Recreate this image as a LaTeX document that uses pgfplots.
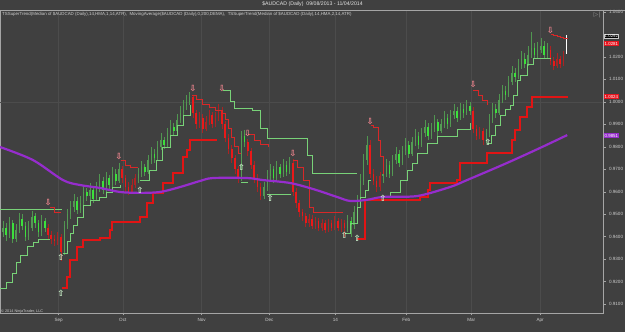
\documentclass[border=0pt]{standalone}
\usepackage{pgfplots}
\pgfplotsset{compat=1.18}
\usepackage{pgfplotstable}
\usepackage{fontspec}
\setmainfont{Liberation Sans}
\newfontfamily\dejavu{DejaVu Sans}
\definecolor{bg}{RGB}{64,64,64}
\definecolor{framec}{RGB}{165,165,165}
\definecolor{lbl}{RGB}{205,205,205}
\definecolor{gwick}{RGB}{80,150,80}
\definecolor{gbody}{RGB}{60,225,60}
\definecolor{gdim}{RGB}{85,155,85}
\definecolor{rwick}{RGB}{170,35,35}
\definecolor{rbody}{RGB}{235,25,25}
\definecolor{rdim}{RGB}{175,35,35}
\definecolor{stg}{RGB}{120,210,120}
\definecolor{str}{RGB}{215,40,40}
\definecolor{stthick}{RGB}{225,20,20}
\definecolor{dema}{RGB}{150,45,205}
\definecolor{dnarrow}{RGB}{245,135,145}
\definecolor{uparrow}{RGB}{205,245,205}
\definecolor{gridc}{RGB}{76,76,76}

\pgfplotstableread{
x o h l c t
0 0.9420 0.9470 0.9400 0.9440 1
1 0.9440 0.9460 0.9380 0.9410 1
2 0.9410 0.9490 0.9395 0.9460 1
3 0.9460 0.9475 0.9370 0.9390 1
4 0.9390 0.9455 0.9375 0.9430 1
5 0.9430 0.9505 0.9415 0.9480 1
6 0.9480 0.9500 0.9430 0.9450 1
7 0.9450 0.9465 0.9380 0.9400 1
8 0.9400 0.9470 0.9385 0.9440 1
9 0.9440 0.9515 0.9425 0.9490 1
10 0.9490 0.9505 0.9440 0.9460 1
11 0.9460 0.9475 0.9400 0.9420 1
12 0.9420 0.9495 0.9405 0.9470 1
13 0.9470 0.9485 0.9420 0.9440 1
14 0.9440 0.9455 0.9390 0.9410 0
15 0.9410 0.9425 0.9370 0.9390 0
16 0.9390 0.9410 0.9360 0.9380 0
17 0.9380 0.9420 0.9365 0.9400 0
18 0.9400 0.9410 0.9290 0.9330 0
19 0.9330 0.9470 0.9320 0.9450 1
20 0.9450 0.9525 0.9435 0.9500 1
21 0.9500 0.9560 0.9480 0.9530 1
22 0.9530 0.9590 0.9510 0.9560 1
23 0.9560 0.9575 0.9500 0.9520 1
24 0.9520 0.9580 0.9505 0.9550 1
25 0.9550 0.9625 0.9535 0.9600 1
26 0.9600 0.9615 0.9560 0.9580 1
27 0.9580 0.9640 0.9565 0.9610 1
28 0.9610 0.9625 0.9550 0.9570 1
29 0.9570 0.9645 0.9560 0.9620 1
30 0.9620 0.9680 0.9600 0.9650 1
31 0.9650 0.9665 0.9590 0.9610 1
32 0.9610 0.9690 0.9600 0.9660 1
33 0.9660 0.9675 0.9610 0.9630 1
34 0.9630 0.9710 0.9615 0.9680 1
35 0.9680 0.9700 0.9630 0.9650 1
36 0.9650 0.9730 0.9640 0.9700 1
37 0.9700 0.9715 0.9640 0.9660 0
38 0.9660 0.9675 0.9600 0.9620 0
39 0.9620 0.9645 0.9585 0.9600 0
40 0.9600 0.9655 0.9590 0.9630 0
41 0.9630 0.9680 0.9615 0.9660 0
42 0.9660 0.9705 0.9640 0.9680 1
43 0.9680 0.9735 0.9665 0.9710 1
44 0.9710 0.9725 0.9670 0.9690 1
45 0.9690 0.9765 0.9680 0.9740 1
46 0.9740 0.9800 0.9725 0.9770 1
47 0.9770 0.9790 0.9730 0.9750 1
48 0.9750 0.9825 0.9740 0.9800 1
49 0.9800 0.9860 0.9785 0.9830 1
50 0.9830 0.9845 0.9790 0.9810 1
51 0.9810 0.9885 0.9800 0.9860 1
52 0.9860 0.9920 0.9845 0.9890 1
53 0.9890 0.9905 0.9850 0.9870 1
54 0.9870 0.9945 0.9860 0.9920 1
55 0.9920 0.9980 0.9905 0.9950 1
56 0.9950 1.0010 0.9935 0.9980 1
57 0.9980 1.0030 0.9965 1.0000 1
58 1.0000 1.0045 0.9985 1.0020 1
59 1.0020 1.0030 0.9930 0.9950 0
60 0.9950 0.9965 0.9880 0.9900 0
61 0.9900 0.9955 0.9885 0.9930 0
62 0.9930 0.9945 0.9860 0.9880 0
63 0.9880 0.9935 0.9870 0.9910 0
64 0.9910 0.9965 0.9895 0.9940 0
65 0.9940 0.9955 0.9885 0.9900 0
66 0.9900 0.9955 0.9890 0.9930 0
67 0.9930 0.9990 0.9915 0.9960 0
68 0.9960 0.9975 0.9880 0.9900 0
69 0.9900 0.9915 0.9820 0.9840 0
70 0.9840 0.9855 0.9770 0.9790 0
71 0.9790 0.9810 0.9730 0.9750 0
72 0.9750 0.9765 0.9680 0.9700 0
73 0.9700 0.9715 0.9640 0.9660 0
74 0.9660 0.9870 0.9650 0.9850 1
75 0.9850 0.9875 0.9800 0.9820 1
76 0.9820 0.9835 0.9760 0.9780 0
77 0.9780 0.9795 0.9700 0.9720 0
78 0.9720 0.9735 0.9640 0.9660 0
79 0.9660 0.9680 0.9600 0.9620 0
80 0.9620 0.9640 0.9565 0.9580 0
81 0.9580 0.9645 0.9570 0.9620 1
82 0.9620 0.9695 0.9605 0.9670 1
83 0.9670 0.9725 0.9650 0.9700 1
84 0.9700 0.9715 0.9640 0.9660 1
85 0.9660 0.9735 0.9650 0.9710 1
86 0.9710 0.9725 0.9660 0.9680 1
87 0.9680 0.9745 0.9665 0.9720 1
88 0.9720 0.9735 0.9670 0.9690 1
89 0.9690 0.9755 0.9680 0.9730 1
90 0.9730 0.9745 0.9580 0.9600 0
91 0.9600 0.9615 0.9530 0.9550 0
92 0.9550 0.9565 0.9490 0.9510 0
93 0.9510 0.9525 0.9470 0.9490 0
94 0.9490 0.9505 0.9445 0.9460 0
95 0.9460 0.9500 0.9445 0.9480 0
96 0.9480 0.9495 0.9435 0.9450 0
97 0.9450 0.9490 0.9435 0.9470 0
98 0.9470 0.9485 0.9425 0.9440 0
99 0.9440 0.9480 0.9425 0.9460 0
100 0.9460 0.9475 0.9415 0.9430 0
101 0.9430 0.9480 0.9420 0.9460 0
102 0.9460 0.9475 0.9425 0.9440 0
103 0.9440 0.9490 0.9430 0.9470 0
104 0.9470 0.9485 0.9425 0.9440 0
105 0.9440 0.9480 0.9420 0.9460 0
106 0.9460 0.9475 0.9400 0.9440 0
107 0.9440 0.9495 0.9420 0.9470 1
108 0.9470 0.9490 0.9400 0.9450 1
109 0.9450 0.9535 0.9435 0.9510 1
110 0.9510 0.9585 0.9490 0.9560 1
111 0.9560 0.9680 0.9545 0.9650 1
112 0.9650 0.9770 0.9630 0.9740 1
113 0.9740 0.9850 0.9720 0.9810 1
114 0.9810 0.9830 0.9660 0.9680 0
115 0.9680 0.9700 0.9630 0.9650 0
116 0.9650 0.9670 0.9600 0.9620 0
117 0.9620 0.9690 0.9605 0.9670 0
118 0.9670 0.9705 0.9640 0.9680 1
119 0.9680 0.9745 0.9665 0.9720 1
120 0.9720 0.9735 0.9660 0.9680 1
121 0.9680 0.9765 0.9670 0.9740 1
122 0.9740 0.9800 0.9725 0.9770 1
123 0.9770 0.9785 0.9710 0.9730 1
124 0.9730 0.9805 0.9720 0.9780 1
125 0.9780 0.9840 0.9765 0.9810 1
126 0.9810 0.9825 0.9750 0.9770 1
127 0.9770 0.9845 0.9760 0.9820 1
128 0.9820 0.9880 0.9805 0.9850 1
129 0.9850 0.9865 0.9790 0.9810 1
130 0.9810 0.9885 0.9800 0.9860 1
131 0.9860 0.9920 0.9845 0.9890 1
132 0.9890 0.9905 0.9830 0.9850 1
133 0.9850 0.9905 0.9835 0.9880 1
134 0.9880 0.9940 0.9865 0.9910 1
135 0.9910 0.9925 0.9850 0.9870 1
136 0.9870 0.9925 0.9860 0.9900 1
137 0.9900 0.9960 0.9885 0.9930 1
138 0.9930 0.9945 0.9880 0.9900 1
139 0.9900 0.9965 0.9890 0.9940 1
140 0.9940 0.9990 0.9925 0.9960 1
141 0.9960 0.9975 0.9910 0.9930 1
142 0.9930 0.9995 0.9920 0.9970 1
143 0.9970 0.9990 0.9930 0.9950 1
144 0.9950 1.0010 0.9940 0.9980 1
145 0.9980 1.0000 0.9940 0.9960 1
146 0.9960 0.9975 0.9860 0.9880 0
147 0.9880 0.9895 0.9830 0.9850 0
148 0.9850 0.9890 0.9835 0.9870 0
149 0.9870 0.9885 0.9810 0.9830 0
150 0.9830 0.9880 0.9815 0.9860 1
151 0.9860 0.9945 0.9845 0.9920 1
152 0.9920 0.9995 0.9905 0.9970 1
153 0.9970 0.9990 0.9930 0.9950 1
154 0.9950 1.0035 0.9940 1.0010 1
155 1.0010 1.0075 0.9995 1.0050 1
156 1.0050 1.0070 1.0010 1.0030 1
157 1.0030 1.0115 1.0020 1.0090 1
158 1.0090 1.0160 1.0075 1.0130 1
159 1.0130 1.0150 1.0090 1.0110 1
160 1.0110 1.0190 1.0100 1.0160 1
161 1.0160 1.0225 1.0145 1.0190 1
162 1.0190 1.0215 1.0150 1.0170 1
163 1.0170 1.0250 1.0160 1.0210 1
164 1.0210 1.0310 1.0195 1.0240 1
165 1.0240 1.0260 1.0190 1.0210 1
166 1.0210 1.0265 1.0195 1.0230 1
167 1.0230 1.0285 1.0215 1.0250 1
168 1.0250 1.0270 1.0190 1.0210 1
169 1.0210 1.0260 1.0195 1.0230 1
170 1.0230 1.0250 1.0165 1.0180 0
171 1.0180 1.0200 1.0140 1.0160 0
172 1.0160 1.0215 1.0150 1.0190 0
173 1.0190 1.0205 1.0150 1.0170 0
174 1.0170 1.0225 1.0160 1.0200 0
175 1.0215 1.0295 1.0212 1.0292 2
}\candles

\pgfplotsset{
  candle/.style 2 args={draw=none, mark=none, forget plot,
    error bars/.cd, y dir=both, y explicit, error mark=none,
    error bar style={draw=#1, line width=#2}},
}

\begin{document}
\begin{tikzpicture}[font=\fontsize{4.6}{5.5}\selectfont]
\useasboundingbox (0,0) rectangle (625pt,332pt);
\fill[bg] (0,0) rectangle (625pt,332pt);
\begin{axis}[
  at={(0pt,19pt)}, anchor=south west,
  scale only axis, width=603pt, height=303pt,
  xmin=-0.93, xmax=186.3, ymin=0.9061, ymax=1.0408,
  clip=false,
  axis background/.style={fill=bg},
  axis line style={framec, line width=0.6pt},
  xtick pos=left, ytick pos=right, yticklabel pos=right,
  tick align=outside, major tick length=2.5pt,
  tick style={framec, line width=0.5pt},
  xtick={17.3,37.2,61.7,82.7,103.2,125.2,145.4,166.8},
  xticklabels={Sep,Oct,Nov,Dec,14,Feb,Mar,Apr},
  ytick={0.91,0.92,0.93,0.94,0.95,0.96,0.97,0.98,0.99,1.00,1.01,1.02,1.03,1.04},
  yticklabels={0.9100,0.9200,0.9300,0.9400,0.9500,0.9600,0.9700,0.9800,0.9900,1.0000,1.0100,1.0200,,1.0400},
  ticklabel style={text=lbl, font=\fontsize{4.6}{5}\selectfont},
  xticklabel style={yshift=0.5pt},
  xmajorgrids, major grid style={gridc, line width=0.5pt},
]
\draw[gridc, line width=0.5pt] (axis cs:-0.93,1.0) -- (axis cs:186.3,1.0);

% wicks
\addplot[restrict expr to domain={\thisrow{t}}{0.5:1.5}, candle={gwick}{0.6pt}]
  table[x=x, y expr={(\thisrow{h}+\thisrow{l})/2}, y error expr={(\thisrow{h}-\thisrow{l})/2}] {\candles};
\addplot[restrict expr to domain={\thisrow{t}}{-0.5:0.5}, candle={rwick}{0.6pt}]
  table[x=x, y expr={(\thisrow{h}+\thisrow{l})/2}, y error expr={(\thisrow{h}-\thisrow{l})/2}] {\candles};
\addplot[restrict expr to domain={\thisrow{t}}{1.5:2.5}, candle={white}{0.6pt}]
  table[x=x, y expr={(\thisrow{h}+\thisrow{l})/2}, y error expr={(\thisrow{h}-\thisrow{l})/2}] {\candles};
% bodies
\addplot[restrict expr to domain={\thisrow{t}+10*(\thisrow{c}<\thisrow{o})}{0.5:1.5}, candle={gdim}{1.1pt}]
  table[x=x, y expr={(\thisrow{o}+\thisrow{c})/2}, y error expr={abs(\thisrow{c}-\thisrow{o})/2}] {\candles};
\addplot[restrict expr to domain={\thisrow{t}+10*(\thisrow{c}<\thisrow{o})}{10.5:11.5}, candle={gbody}{1.7pt}]
  table[x=x, y expr={(\thisrow{o}+\thisrow{c})/2}, y error expr={abs(\thisrow{c}-\thisrow{o})/2}] {\candles};
\addplot[restrict expr to domain={\thisrow{t}+10*(\thisrow{c}<\thisrow{o})}{-0.5:0.5}, candle={rdim}{1.1pt}]
  table[x=x, y expr={(\thisrow{o}+\thisrow{c})/2}, y error expr={abs(\thisrow{c}-\thisrow{o})/2}] {\candles};
\addplot[restrict expr to domain={\thisrow{t}+10*(\thisrow{c}<\thisrow{o})}{9.5:10.5}, candle={rbody}{1.7pt}]
  table[x=x, y expr={(\thisrow{o}+\thisrow{c})/2}, y error expr={abs(\thisrow{c}-\thisrow{o})/2}] {\candles};
\addplot[restrict expr to domain={\thisrow{t}}{1.5:2.5}, candle={white}{1.7pt}]
  table[x=x, y expr={(\thisrow{o}+\thisrow{c})/2}, y error expr={abs(\thisrow{c}-\thisrow{o})/2}] {\candles};

% SuperTrend 2 (multiplier 2): green in down mode, thick red in up mode
\addplot[stg, line width=1.0pt] coordinates {(-0.93,0.9520) (18.3,0.9520)};
\addplot[const plot, stg, line width=1.0pt] coordinates {(68.3,1.0048) (70.5,0.9999) (72,0.9968) (77.6,0.9959) (79.8,0.9879) (82,0.9835) (92.2,0.9835) (94.4,0.9759) (96,0.9679) (110,0.9679)};
\addplot[const plot, stthick, line width=1.6pt] coordinates {(18.3,0.9172) (19.9,0.9221) (20.8,0.9297) (23,0.9355) (24.8,0.9386) (30.1,0.9395) (33.2,0.9430) (33.9,0.9466) (41.6,0.9466) (42.5,0.9488) (44.7,0.9550) (46.6,0.9595) (49.7,0.9639) (52.8,0.9684) (55.9,0.9755) (57.1,0.9786) (58.1,0.9830) (66.5,0.9830)};
\addplot[const plot, stthick, line width=1.6pt] coordinates {(110,0.9390) (112.4,0.9564) (128,0.9564) (129.5,0.9577) (132,0.9608) (132.6,0.9639) (138.8,0.9639) (141,0.9652) (141.9,0.9728) (149,0.9728) (150.3,0.9772) (157.5,0.9772) (158.1,0.9830) (159,0.9875) (160.6,0.9932) (162.7,0.9977) (164.3,1.0021) (175.5,1.0021)};

% SuperTrend 1 (multiplier 1)
\addplot[const plot, stg, line width=0.8pt] coordinates {(-0.93,0.9172) (1,0.9199) (3,0.9239) (4.3,0.9284) (5.3,0.9319) (7.5,0.9355) (9.3,0.9377) (11,0.9386) (14.5,0.9386)};
\addplot[const plot, str, line width=0.8pt] coordinates {(14.5,0.9532) (16,0.9506) (18,0.9506)};
\addplot[const plot, stg, line width=0.8pt] coordinates {(18.5,0.9328) (20,0.9380) (21,0.9417) (22,0.9450) (23,0.9488) (25,0.9541) (27,0.9563) (30,0.9577) (32,0.9599) (34,0.9621) (36.3,0.9630)};
\addplot[const plot, str, line width=0.8pt] coordinates {(36.5,0.9741) (38,0.9719) (39.5,0.9710) (42,0.9710)};
\addplot[const plot, stg, line width=0.8pt] coordinates {(42.5,0.9652) (44,0.9652) (45.5,0.9697) (47.5,0.9741) (49.5,0.9795) (52,0.9852) (54,0.9897) (56,0.9941) (58.2,0.9986)};
\addplot[const plot, str, line width=0.8pt] coordinates {(58.7,1.0030) (60,1.0010) (62,0.9990) (64,0.9975) (66,0.9960) (68,0.9950) (69,0.9920) (70,0.9880) (71,0.9840) (72,0.9800) (73,0.9770) (74,0.9770)};
\addplot[const plot, stg, line width=0.8pt] coordinates {(74,0.9640) (76,0.9640)};
\addplot[const plot, str, line width=0.8pt] coordinates {(76.1,0.9856) (78,0.9830) (80,0.9810) (82.5,0.9800)};
\addplot[const plot, stg, line width=0.8pt] coordinates {(82,0.9590) (89.5,0.9590)};
\addplot[const plot, str, line width=0.9pt] coordinates {(90,0.9741) (91.3,0.9710) (93.2,0.9652) (95.3,0.9532) (96.3,0.9510) (105.6,0.9510)};
\addplot[const plot, stg, line width=0.8pt] coordinates {(106.2,0.9417) (107.8,0.9461) (110,0.9532) (110.9,0.9577) (112.4,0.9608) (113.5,0.9650) (114.2,0.9650)};
\addplot[const plot, str, line width=0.8pt] coordinates {(114.3,0.9897) (115,0.9888) (116.5,0.9830) (117.1,0.9755) (118,0.9679)};
\addplot[const plot, stg, line width=0.8pt] coordinates {(118,0.9577) (120.2,0.9599) (123.3,0.9652) (125.5,0.9697) (127,0.9728) (128.6,0.9772) (131.7,0.9817) (134.8,0.9844) (140.4,0.9844) (141,0.9875) (145,0.9906)};
\addplot[const plot, str, line width=0.8pt] coordinates {(146,1.0052) (147.5,1.0030) (149,1.0008) (150.3,0.9986)};
\addplot[const plot, stg, line width=0.8pt] coordinates {(150.3,0.9817) (151.5,0.9852) (152.8,0.9897) (154.3,0.9941) (155.9,0.9964) (157.5,0.9986) (158.4,1.0030) (159.6,1.0097) (160.6,1.0119) (162.7,1.0164) (164.6,1.0195) (170,1.0195)};
\addplot[const plot, str, line width=0.8pt] coordinates {(170,1.0300) (171,1.0295) (172,1.0290) (173,1.0285) (174,1.0281) (175.5,1.0281)};

% DEMA 200
\addplot[dema, line width=2.2pt, smooth] coordinates {(-0.93,0.9799) (9.3,0.9741) (18.6,0.9652) (23.9,0.9630) (30.1,0.9617) (36.3,0.9599) (42.5,0.9595) (48.8,0.9599) (55,0.9621) (61.2,0.9648) (65.2,0.9661) (75.8,0.9661) (80.7,0.9652) (89.1,0.9639) (96.3,0.9612) (103.7,0.9577) (107.8,0.9559) (113,0.9564) (118,0.9577) (128.6,0.9581) (138.8,0.9621) (144.1,0.9652) (156.5,0.9728) (166.8,0.9795) (175.2,0.9852)};

% signals
\addplot[only marks, mark=text, text mark={\dejavu\bfseries\textcolor{dnarrow}{⇩}}, text mark as node=true, text mark style={font=\fontsize{8.5}{8.5}\selectfont, inner sep=0pt}] coordinates {(14,0.9550) (36,0.9755) (59,1.0061) (68,1.0061) (76,0.9861) (90,0.9772) (114,0.9914) (146,1.0075) (170,1.0319)};
\addplot[only marks, mark=text, text mark={\dejavu\bfseries\textcolor{uparrow}{⇧}}, text mark as node=true, text mark style={font=\fontsize{8.5}{8.5}\selectfont, inner sep=0pt}] coordinates {(18,0.9310) (18,0.9150) (42.5,0.9608) (74,0.9710) (83,0.9572) (106,0.9408) (110,0.9394) (118,0.9572) (150.6,0.9821)};
\end{axis}

% header
\draw[framec, line width=0.6pt] (0,322pt) -- (625pt,322pt);
\node[text={rgb,255:red,228;green,228;blue,228}, font=\fontsize{5.2}{6}\selectfont] at (312.5pt,327.5pt) {\$AUDCAD (Daily)\ \ 09/08/2013 - 11/04/2014};
\node[anchor=west, inner sep=0pt, text=lbl, font=\fontsize{4.4}{5}\selectfont] at (2pt,317.5pt) {TSSuperTrend(Median of \$AUDCAD (Daily),14,HMA,1,14,ATR),\ \ MovingAverage(\$AUDCAD (Daily),0,200,DEMA),\ \ TSSuperTrend(Median of \$AUDCAD (Daily),14,HMA,2,14,ATR)};
\node[anchor=center, inner sep=0pt, text={rgb,255:red,150;green,150;blue,150}, font=\dejavu\fontsize{6}{6}\selectfont] at (597pt,317pt) {▷|};
\node[anchor=west, inner sep=0pt, text=lbl, font=\fontsize{3.8}{4}\selectfont] at (1pt,20.5pt) {© 2014 NinjaTrader, LLC};

% price tags on right axis
\node[anchor=west, fill=black, draw={rgb,255:red,200;green,200;blue,200}, line width=0.4pt, text=white, inner sep=0.45pt, font=\fontsize{4.4}{4.6}\selectfont] at (604pt,296pt) {1.0292};
\node[anchor=west, fill={rgb,255:red,230;green,20;blue,30}, text=white, inner sep=0.45pt, font=\fontsize{4.4}{4.6}\selectfont] at (604pt,288.5pt) {1.0281};
\node[anchor=west, fill={rgb,255:red,230;green,20;blue,30}, text=white, inner sep=0.45pt, font=\fontsize{4.4}{4.6}\selectfont] at (604pt,235.5pt) {1.0024};
\node[anchor=west, fill={rgb,255:red,150;green,45;blue,205}, text=white, inner sep=0.45pt, font=\fontsize{4.4}{4.6}\selectfont] at (604pt,196.5pt) {0.9851};
\end{tikzpicture}
\end{document}
